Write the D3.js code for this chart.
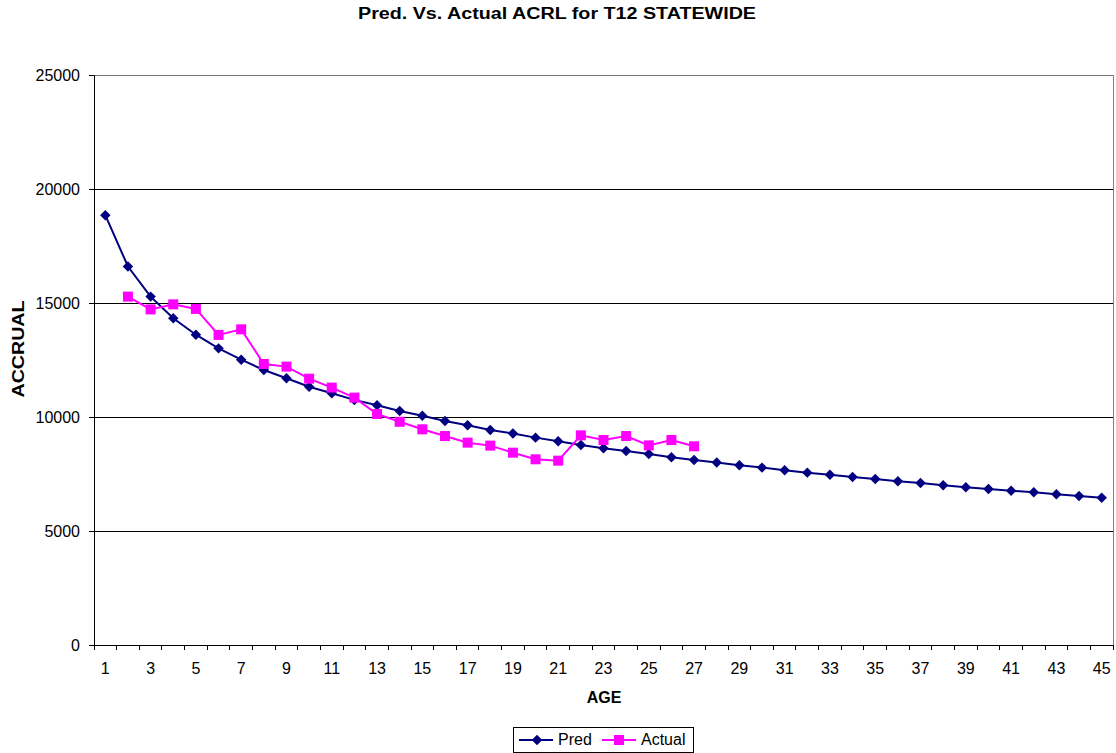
<!DOCTYPE html>
<html>
<head>
<meta charset="utf-8">
<script src="https://cdn.jsdelivr.net/npm/d3@7"></script>
<style>
  body { margin: 0; background: #fff; }
  svg text { font-family: "Liberation Sans", Arial, sans-serif; fill: #000; }
</style>
</head>
<body>
<svg id="chart" width="1116" height="753"></svg>
<script>
// ages 1..45
const ages = d3.range(1, 46);

const predValues = [
  18850, 16600, 15280, 14330, 13610, 13010, 12515, 12060, 11700, 11330,
  11040, 10750, 10515, 10265, 10055, 9825, 9635, 9430, 9280, 9095,
  8935, 8775, 8630, 8510, 8380, 8235, 8115, 8000, 7880, 7780,
  7660, 7560, 7470, 7370, 7280, 7180, 7105, 7005, 6915, 6840,
  6770, 6695, 6610, 6535, 6460
];

// actual starts at age 2, ends at age 27
const actualAges = d3.range(2, 28);
const actualValues = [
  15280, 14720, 14940, 14740, 13600, 13845, 12325, 12210, 11680, 11290,
  10850, 10130, 9790, 9460, 9165, 8875, 8745, 8435, 8145, 8085,
  9195, 8990, 9165, 8755, 8990, 8715
];

const yTicks = [0, 5000, 10000, 15000, 20000, 25000];

const colorPred = "#000080";
const colorActual = "#FF00FF";

const margin = {left: 94, right: 3, top: 75, bottom: 108};
const width = 1116, height = 753;
const svg = d3.select('svg#chart');

const x = d3.scaleBand()
  .domain(ages)
  .range([margin.left, width - margin.right]);

const y = d3.scaleLinear()
  .domain([0, 25000])
  .range([height - margin.bottom, margin.top]);

// gridlines (top one doubles as grey plot border)
svg.append('g')
  .selectAll('line')
  .data(yTicks.filter(d => d > 0))
  .join('line')
  .attr('x1', margin.left).attr('x2', width - margin.right)
  .attr('y1', d => y(d)).attr('y2', d => y(d))
  .attr('stroke', d => d == 25000 ? '#777' : '#000').attr('stroke-width', 1)
  .attr('shape-rendering', 'crispEdges');

// plot border (right side grey)
svg.append('line')
  .attr('x1', width - margin.right).attr('x2', width - margin.right)
  .attr('y1', margin.top).attr('y2', y(0))
  .attr('stroke', '#808080')
  .attr('shape-rendering', 'crispEdges');

// y axis
const yAxis = svg.append('g')
  .attr('transform', `translate(${margin.left},0)`)
  .call(d3.axisLeft(y).tickValues(yTicks).tickSize(5).tickPadding(9).tickFormat(d3.format('d')));
yAxis.selectAll('text').style('font-size', '16px');
yAxis.select('.domain').attr('stroke', '#000');

// x axis: ticks between categories
const xAxisG = svg.append('g')
  .attr('transform', `translate(0,${y(0)})`);
xAxisG.append('line')
  .attr('x1', margin.left).attr('x2', width - margin.right)
  .attr('y1', 0).attr('y2', 0)
  .attr('stroke', '#000')
  .attr('shape-rendering', 'crispEdges');
xAxisG.selectAll('line.tick')
  .data(d3.range(0, ages.length + 1))
  .join('line')
  .attr('class', 'tick')
  .attr('x1', i => margin.left + i * x.step())
  .attr('x2', i => margin.left + i * x.step())
  .attr('y1', 0).attr('y2', 5)
  .attr('stroke', '#000')
  .attr('shape-rendering', 'crispEdges');
xAxisG.selectAll('text')
  .data(ages.filter(a => a % 2 == 1))
  .join('text')
  .attr('x', a => x(a) + x.bandwidth() / 2)
  .attr('y', 29)
  .attr('text-anchor', 'middle')
  .style('font-size', '16px')
  .text(a => a);

// lines
const cx = a => x(a) + x.bandwidth() / 2;

const predLine = d3.line()
  .x((d, i) => cx(ages[i]))
  .y(d => y(d));
svg.append('path')
  .datum(predValues)
  .attr('d', predLine)
  .attr('fill', 'none')
  .attr('stroke', colorPred)
  .attr('stroke-width', 2);

const actualLine = d3.line()
  .x((d, i) => cx(actualAges[i]))
  .y(d => y(d));
svg.append('path')
  .datum(actualValues)
  .attr('d', actualLine)
  .attr('fill', 'none')
  .attr('stroke', colorActual)
  .attr('stroke-width', 2);

// markers
const diamond = d3.symbol().type(d3.symbolDiamond2).size(70);
svg.append('g')
  .selectAll('path')
  .data(predValues)
  .join('path')
  .attr('d', diamond)
  .attr('transform', (d, i) => `translate(${cx(ages[i])},${y(d)})`)
  .attr('fill', colorPred);

svg.append('g')
  .selectAll('rect')
  .data(actualValues)
  .join('rect')
  .attr('x', (d, i) => cx(actualAges[i]) - 5)
  .attr('y', d => y(d) - 5)
  .attr('width', 10).attr('height', 10)
  .attr('fill', colorActual);

// title + labels
svg.append('text')
  .attr('x', 557).attr('y', 19)
  .attr('text-anchor', 'middle')
  .attr('textLength', 398).attr('lengthAdjust', 'spacingAndGlyphs')
  .style('font-size', '16px').style('font-weight', 'bold')
  .text('Pred. Vs. Actual ACRL for T12 STATEWIDE');

svg.append('text')
  .attr('x', 604).attr('y', 703)
  .attr('text-anchor', 'middle')
  .style('font-size', '16px').style('font-weight', 'bold')
  .text('AGE');

svg.append('text')
  .attr('transform', 'translate(24,349) rotate(-90)')
  .attr('text-anchor', 'middle')
  .attr('textLength', 97).attr('lengthAdjust', 'spacingAndGlyphs')
  .style('font-size', '16px').style('font-weight', 'bold')
  .text('ACCRUAL');

// legend
const legend = svg.append('g');
legend.append('rect')
  .attr('x', 513.5).attr('y', 727.5)
  .attr('width', 180).attr('height', 25)
  .attr('fill', '#fff').attr('stroke', '#000');

const legendItems = [
  {name: 'Pred', color: colorPred, x0: 519, kind: 'diamond'},
  {name: 'Actual', color: colorActual, x0: 602, kind: 'square'}
];
legendItems.forEach(it => {
  legend.append('line')
    .attr('x1', it.x0).attr('x2', it.x0 + 34)
    .attr('y1', 740).attr('y2', 740)
    .attr('stroke', it.color).attr('stroke-width', 2);
  if (it.kind == 'diamond') {
    legend.append('path')
      .attr('d', diamond)
      .attr('transform', `translate(${it.x0 + 18},740)`)
      .attr('fill', it.color);
  } else {
    legend.append('rect')
      .attr('x', it.x0 + 12).attr('y', 735)
      .attr('width', 10).attr('height', 10)
      .attr('fill', it.color);
  }
  legend.append('text')
    .attr('x', it.x0 + 39).attr('y', 745)
    .style('font-size', '16px')
    .text(it.name);
});
</script>
</body>
</html>
